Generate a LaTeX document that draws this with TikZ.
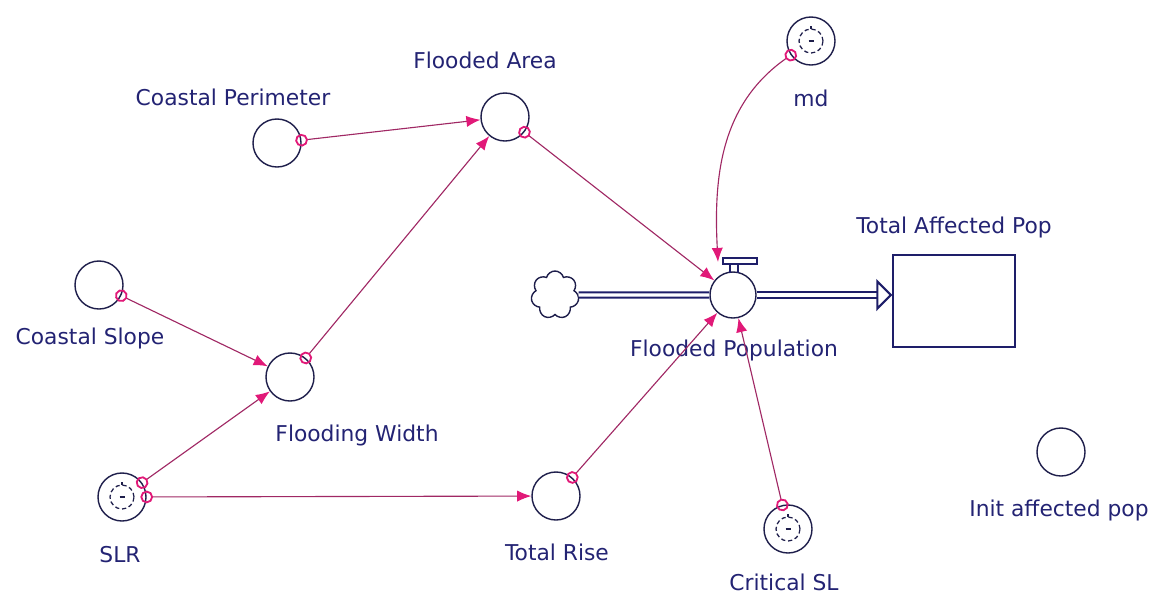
\documentclass[tikz,border=0pt]{standalone}
\usepackage{fontspec}
\newfontfamily\diagfont{DejaVu Sans}
\usetikzlibrary{arrows.meta,shapes.symbols}

\definecolor{aux}{RGB}{30,30,75}
\definecolor{txt}{RGB}{35,35,115}
\definecolor{linkc}{RGB}{160,40,100}
\definecolor{tipc}{RGB}{225,25,120}
\definecolor{pipec}{RGB}{30,30,105}

\begin{document}
\begin{tikzpicture}[x=0.025cm,y=0.025cm,
  every node/.style={inner sep=0pt},
  conv/.style={circle,draw=aux,line width=1pt,minimum size=1.2cm},
  lab/.style={font=\diagfont\fontsize{15.5}{18}\selectfont,text=txt},
  link/.style={draw=linkc,line width=0.8pt,shorten <=-4.5pt,
    {Circle[open,length=9pt,width=9pt,color=tipc,line width=1.3pt]}-{Latex[length=10pt,width=8pt,color=tipc]}},
  pipe/.style={draw=pipec,line width=1.5pt,double=white,double distance=2.2pt},
  ghost/.pic={
    \draw[aux,densely dashed,line width=0.9pt] (0,0) circle (12);
    \draw[aux,line width=0.9pt] (-2.5,0) -- (2.5,0) (0,12) -- (0,15);
  },
]
  \useasboundingbox (0,0) rectangle (1160,-594);
  % ============ auxiliaries ============
  \node[conv] (cp) at (277,-143) {};
  \node[conv] (fa) at (505,-117) {};
  \node[conv] (md) at (811,-41) {};
  \node[conv] (cs) at (99,-285) {};
  \node[conv] (fw) at (290,-377) {};
  \node[conv] (slr) at (122,-497) {};
  \node[conv] (tr) at (556,-496) {};
  \node[conv] (csl) at (788,-529) {};
  \node[conv] (iap) at (1061,-452) {};
  \pic at (md) {ghost};
  \pic at (slr) {ghost};
  \pic at (csl) {ghost};
  % ============ stock and flow ============
  \node[draw=pipec,line width=1pt,minimum width=3.05cm,minimum height=2.3cm] (tap) at (954,-301) {};
  \node[cloud,cloud puffs=7,aspect=1,draw=aux,line width=1pt,minimum width=1.2cm,minimum height=1.2cm] (src) at (555,-295) {};
  \node[conv,minimum size=1.15cm] (fp) at (733,-295) {};
  \draw[pipe] (src) -- (fp);
  \draw[pipe,-{Triangle[open,length=0.4cm,width=0.8cm]}] (fp) -- (fp -| tap.west);
  % valve handle
  \draw[pipec,line width=1pt] (723,-258) rectangle (757,-264);
  \draw[pipec,line width=1pt] (730,-264) -- (730,-273) (738,-264) -- (738,-273);
  \coordinate (fptop) at (718,-262);
  % ============ labels ============
  \node[lab] (lcp) at (233,-97) {Coastal Perimeter};
  \node[lab] (lfa) at (485,-60) {Flooded Area};
  \node[lab] (lmd) at (811,-98) {md};
  \node[lab] (lcs) at (90,-338) {Coastal Slope};
  \node[lab] (lfw) at (357,-435) {Flooding Width};
  \node[lab] (lslr) at (120,-555) {SLR};
  \node[lab] (ltr) at (557,-552) {Total Rise};
  \node[lab] (lcsl) at (784,-582) {Critical SL};
  \node[lab] (liap) at (1059,-510) {Init affected pop};
  \node[lab] (lfp) at (734,-350) {Flooded Population};
  \node[lab] (ltap) at (954,-227) {Total Affected Pop};
  % ============ connectors ============
  \draw[link] (cp) -- (fa);
  \draw[link] (fa) -- (fp);
  \draw[link] (md) to[out=215,in=93] (fptop);
  \draw[link] (cs) -- (fw);
  \draw[link] (fw) -- (fa);
  \draw[link] (slr) -- (fw);
  \draw[link] (slr) -- (tr);
  \draw[link] (tr) -- (fp);
  \draw[link] (csl) -- (fp);
\end{tikzpicture}
\end{document}
